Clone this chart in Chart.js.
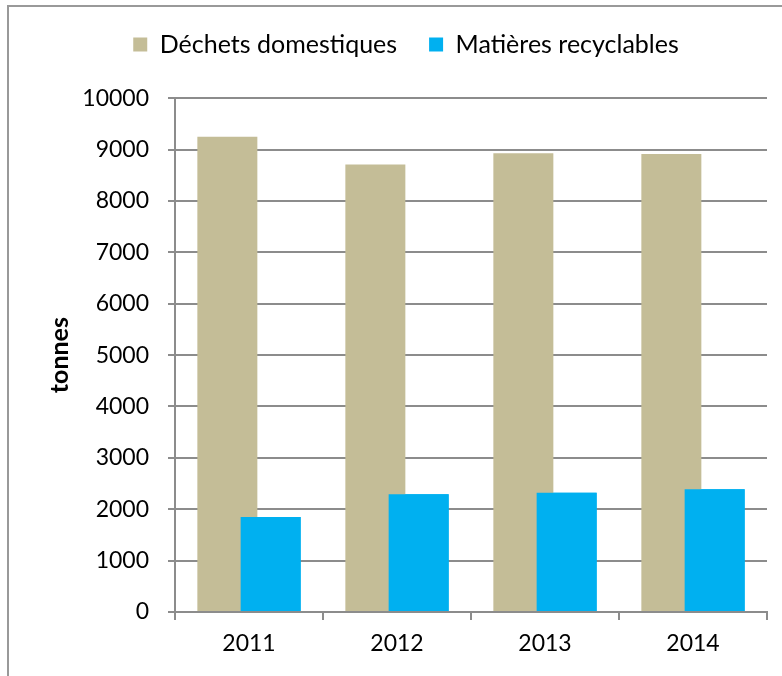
<!DOCTYPE html>
<html>
<head>
<meta charset="utf-8">
<script src="https://cdn.jsdelivr.net/npm/chart.js@4/dist/chart.umd.min.js"></script>
<style>
  html, body { margin: 0; padding: 0; background: #fff; overflow: hidden; }
  #frame {
    position: absolute; left: 7px; top: 5px; width: 790px; height: 700px;
    border-left: 2px solid #999; border-top: 2px solid #999;
  }
  #wrap { position: absolute; left: 0; top: 0; width: 782px; height: 676px; }
</style>
</head>
<body>
<div id="frame"></div>
<div id="wrap"><canvas id="chart" width="782" height="676"></canvas></div>
<script>
const years = ['2011', '2012', '2013', '2014'];
const dechets = [9250, 8710, 8930, 8915];
const recyclables = [1850, 2290, 2320, 2390];
const seriesNames = ['Déchets domestiques', 'Matières recyclables'];

const FONT = 'Lato, "Liberation Sans", sans-serif';
const GRID = '#8c8c8c';

// Excel draws the second series over the first one, Chart.js does the reverse
const secondOnTop = {
    id: 'secondOnTop',
    afterDatasetsDraw(chart) {
        chart.getDatasetMeta(1).controller.draw();
    }
};

new Chart(document.getElementById('chart').getContext('2d'), {
    type: 'bar',
    data: {
        labels: years,
        datasets: [
            { label: seriesNames[0], data: dechets, backgroundColor: '#c4bd97' },
            { label: seriesNames[1], data: recyclables, backgroundColor: '#00b0f0' }
        ]
    },
    plugins: [secondOnTop],
    options: {
        responsive: false,
        animation: false,
        categoryPercentage: 0.585,
        barPercentage: 1.386,
        layout: { padding: { left: 45, right: 15, top: 0, bottom: 0 } },
        plugins: {
            legend: {
                position: 'top',
                labels: {
                    color: '#000',
                    font: { family: FONT, size: 25 },
                    boxWidth: 14,
                    boxHeight: 14,
                    padding: 32
                }
            },
            subtitle: {
                // spacer between legend and plot
                display: true,
                text: '',
                weight: 500,
                font: { size: 1 },
                padding: { top: 30, bottom: 0 }
            },
            tooltip: { enabled: false }
        },
        scales: {
            x: {
                grid: { drawOnChartArea: false, drawTicks: true, tickLength: 8, color: GRID, lineWidth: 2 },
                border: { color: GRID, width: 2 },
                ticks: { color: '#000', font: { family: FONT, size: 23 }, padding: 10 },
                afterFit: s => { s.height = 64; }
            },
            y: {
                min: 0,
                max: 10000,
                grid: { color: GRID, lineWidth: 2, tickLength: 7 },
                border: { color: GRID, width: 2 },
                ticks: { stepSize: 1000, color: '#000', font: { family: FONT, size: 23 }, padding: 19, callback: v => String(v) },
                title: { display: true, text: 'tonnes', color: '#000', font: { family: FONT, size: 25, weight: 'bold' }, padding: { top: 0, bottom: 0 } },
                afterFit: s => { s.width = 130; }
            }
        }
    }
});
</script>
</body>
</html>
